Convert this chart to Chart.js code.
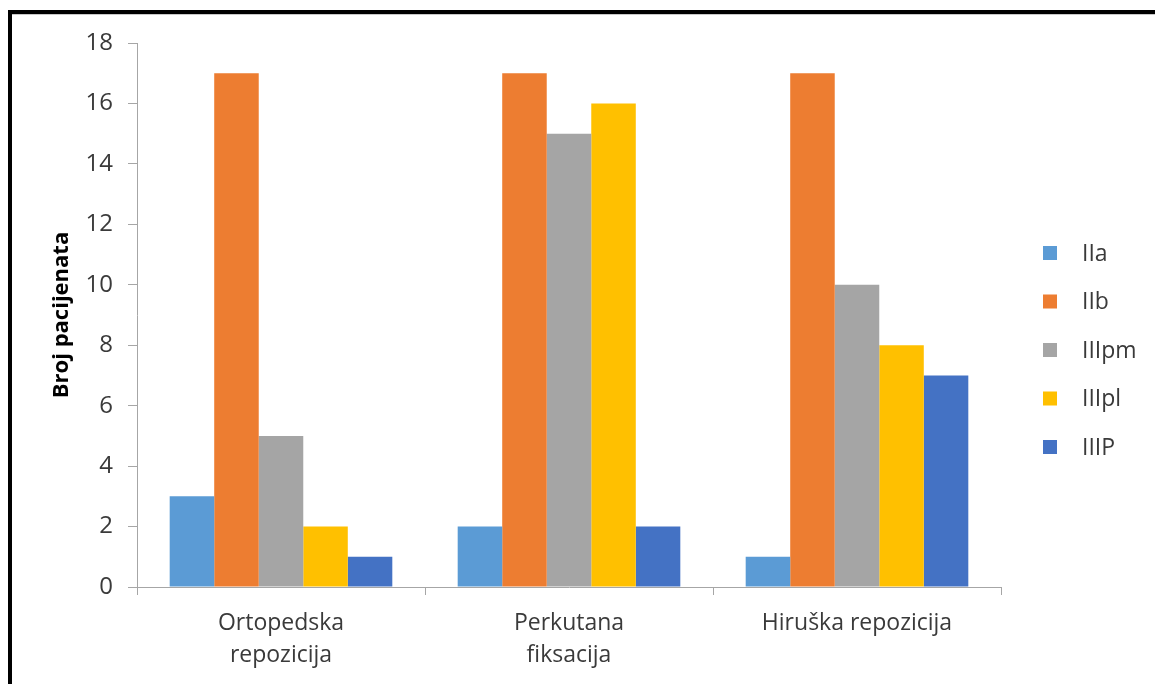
<!DOCTYPE html>
<html>
<head>
<meta charset="utf-8">
<script src="https://cdn.jsdelivr.net/npm/chart.js@4.4.1/dist/chart.umd.min.js"></script>
<style>
    html, body { margin: 0; padding: 0; background: #fff; }
    #wrap { position: relative; width: 1155px; height: 684px; overflow: hidden; }
    #chart { position: absolute; left: 0; top: 0; }
    .frame-top { position: absolute; left: 8px; top: 10px; width: 1147px; height: 4px; background: #000; }
    .frame-top-shadow { position: absolute; left: 12px; top: 14px; width: 1143px; height: 1px; background: #c8c8c8; }
    .frame-left { position: absolute; left: 8px; top: 10px; width: 4px; height: 674px; background: #000; }
</style>
</head>
<body>
<div id="wrap">
    <canvas id="chart" width="1155" height="684"></canvas>
    <div class="frame-top"></div>
    <div class="frame-top-shadow"></div>
    <div class="frame-left"></div>
</div>
<script>
const categories = [["Ortopedska", "repozicija"], ["Perkutana", "fiksacija"], "Hiruška repozicija"];
const seriesNames = ["IIa", "IIb", "IIIpm", "IIIpl", "IIIP"];
const seriesColors = ["#5b9bd5", "#ed7d31", "#a5a5a5", "#ffc000", "#4472c4"];
const valuesIIa = [3, 2, 1];
const valuesIIb = [17, 17, 17];
const valuesIIIpm = [5, 15, 10];
const valuesIIIpl = [2, 16, 8];
const valuesIIIP = [1, 2, 7];
const yTicks = [0, 2, 4, 6, 8, 10, 12, 14, 16, 18];
const yTitle = "Broj pacijenata";

const seriesValues = [valuesIIa, valuesIIb, valuesIIIpm, valuesIIIpl, valuesIIIP];
const fontFamily = "'Open Sans', sans-serif";
const textColor = "#3a3a3a";
const axisColor = "#a6a6a6";

// legend drawn to the right of the plot, like the Excel original
const sideLegend = {
    id: "sideLegend",
    afterDraw(chart) {
        const ctx = chart.ctx;
        ctx.save();
        ctx.font = "23px " + fontFamily;
        ctx.textBaseline = "middle";
        chart.data.datasets.forEach((ds, i) => {
            const y = 253 + i * 48.5;
            ctx.fillStyle = ds.backgroundColor;
            ctx.fillRect(1043, y - 7, 14, 14);
            ctx.fillStyle = textColor;
            ctx.fillText(ds.label, 1082, y + 1);
        });
        ctx.restore();
    }
};

const chart = new Chart(document.getElementById("chart"), {
    type: "bar",
    data: {
        labels: categories,
        datasets: seriesNames.map((name, i) => ({
            label: name,
            data: seriesValues[i],
            backgroundColor: seriesColors[i],
            borderWidth: 0,
            categoryPercentage: 0.773,
            barPercentage: 1,
        })),
    },
    options: {
        responsive: false,
        animation: false,
        layout: { padding: { top: 43, right: 154, left: 40, bottom: 0 } },
        plugins: {
            legend: { display: false },
            tooltip: { enabled: false },
        },
        scales: {
            x: {
                afterFit(scale) { scale.height = 97; },
                grid: { drawOnChartArea: false, drawTicks: true, tickLength: 8, color: axisColor, offset: true },
                border: { color: axisColor, width: 1 },
                ticks: {
                    color: textColor,
                    font: { family: fontFamily, size: 23, lineHeight: 1.4 },
                    padding: 12,
                    maxRotation: 0,
                    autoSkip: false,
                },
            },
            y: {
                min: 0,
                max: 18,
                afterFit(scale) { scale.width = 137 - 40; },
                afterBuildTicks(scale) { scale.ticks = yTicks.map(v => ({ value: v })); },
                grid: { drawOnChartArea: false, drawTicks: true, tickLength: 9, color: axisColor },
                border: { color: axisColor, width: 1 },
                ticks: {
                    color: textColor,
                    font: { family: fontFamily, size: 24 },
                    padding: 15,
                },
                title: {
                    display: true,
                    text: yTitle,
                    color: "#000",
                    font: { family: fontFamily, size: 22, weight: "bold" },
                    padding: { top: 9, bottom: 0 },
                },
            },
        },
    },
    plugins: [sideLegend],
});
</script>
</body>
</html>
